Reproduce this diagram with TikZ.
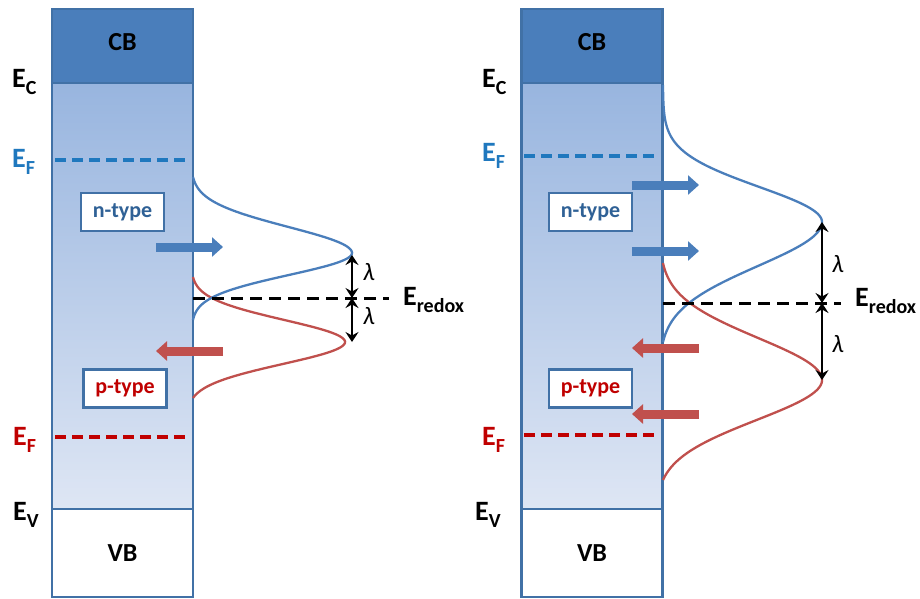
\documentclass[tikz,border=0pt]{standalone}
\usepackage{fontspec}
\setmainfont{Carlito}
\usetikzlibrary{arrows.meta, positioning, calc}
\definecolor{cbblue}{RGB}{74,126,187}
\definecolor{edgeblue}{RGB}{65,113,166}
\definecolor{gaptop}{RGB}{152,181,223}
\definecolor{gapbot}{RGB}{222,230,244}
\definecolor{ntext}{RGB}{47,97,150}
\definecolor{fblue}{RGB}{31,120,190}
\definecolor{fred}{RGB}{192,0,0}
\definecolor{dosred}{RGB}{192,80,77}
\newcommand{\lvl}[2]{#1\raisebox{-7pt}{\fontsize{20}{20}\selectfont #2}}

\begin{document}
\begin{tikzpicture}[
  x=1pt, y=-1pt,
  band/.style={draw=edgeblue, line width=2.6pt, minimum width=141pt, outer sep=0pt, inner sep=0pt,
               font=\fontsize{26}{26}\selectfont\bfseries},
  cbband/.style={band, fill=cbblue, minimum height=74pt, text depth=8pt},
  gapband/.style={band, top color=gaptop, bottom color=gapbot, minimum height=426pt},
  vbband/.style={band, fill=white, minimum height=88pt},
  typebox/.style={draw=edgeblue, line width=2.6pt, fill=white, minimum width=83pt, minimum height=38pt,
                  inner sep=0pt, font=\fontsize{22}{22}\selectfont\bfseries},
  lvllab/.style={anchor=base west, inner sep=0pt, font=\fontsize{28}{28}\selectfont\bfseries},
  fermi/.style={dash pattern=on 11pt off 6pt, line width=3.6pt},
  redoxline/.style={black, dash pattern=on 12pt off 7pt, line width=3pt},
  dos/.style={line width=2.3pt},
  lamarrow/.style={{Stealth[length=10pt,width=13pt,inset=3.5pt]}-{Stealth[length=10pt,width=13pt,inset=3.5pt]}, line width=2.8pt},
  lamlab/.style={inner sep=0pt, font=\fontsize{25}{25}\selectfont\itshape},
  flow/.style={line width=9pt, -{Triangle[length=11pt,width=19pt]}},
  node distance=0pt,
  declare function={bump(\pa,\pb,\pc,\pd)=(exp(-0.5*((\pa-\pb)/\pc)*((\pa-\pb)/\pc))-exp(-0.5*(\pd/\pc)*(\pd/\pc)))/(1-exp(-0.5*(\pd/\pc)*(\pd/\pc)));}
]
\useasboundingbox (0,0) rectangle (920,598);

% left panel
\node[cbband] (cb1) at (122.5,46) {CB};
\node[gapband, below=of cb1] (gap1) {};
\node[vbband, below=of gap1] (vb1) {VB};
\node[lvllab] (ec1) at (12,87) {\lvl{E}{C}};
\node[lvllab, text=fblue] (efn1) at (12,167) {\lvl{E}{F}};
\node[lvllab, text=fred] (efp1) at (13,445) {\lvl{E}{F}};
\node[lvllab] (ev1) at (13,520) {\lvl{E}{V}};
\draw[fermi, fblue] (55,160) -- (191,160);
\draw[fermi, fred] (55,437) -- (191,437);
\node[typebox, text=ntext] (ntype1) at (122.5,212) {n-type};
\node[typebox, text=fred] (ptype1) at (125,388.5) {p-type};

\draw[dos, dosred] plot[domain=277:342, samples=60] ({193+152*bump(\x,342,22,65)}, \x)
  -- plot[domain=342:398, samples=60] ({193+152*bump(\x,342,22,56)}, \x);
\draw[dos, cbblue] plot[domain=177:253, samples=60] ({193+159*bump(\x,253,26,76)}, \x)
  -- plot[domain=253:320, samples=60] ({193+159*bump(\x,253,22,67)}, \x);

\coordinate (rxa1) at (193,298);
\node[lvllab] (redox1) at (403,305) {\lvl{E}{redox}};
\draw[redoxline] (rxa1) -- (redox1.west |- rxa1) [shorten >=14pt];
\coordinate (pkb1) at (352,255);
\coordinate (rxm1) at (352,298);
\coordinate (pkr1) at (352,342);
\draw[lamarrow] (pkb1) -- (rxm1);
\draw[lamarrow] (rxm1) -- (pkr1);
\node[lamlab] (lamup1) at (369,272) {λ};
\node[lamlab] (lamdn1) at (369,316) {λ};

\coordinate (na1) at (156,247);
\coordinate (nb1) at (223,247);
\coordinate (pa1) at (223,351);
\coordinate (pb1) at (156,351);
\draw[flow, cbblue] (na1) -- (nb1);
\draw[flow, dosred] (pa1) -- (pb1);

% right panel
\node[cbband] (cb2) at (592,46) {CB};
\node[gapband, below=of cb2] (gap2) {};
\node[vbband, below=of gap2] (vb2) {VB};
\node[lvllab] (ec2) at (482,87) {\lvl{E}{C}};
\node[lvllab, text=fblue] (efn2) at (482,161) {\lvl{E}{F}};
\node[lvllab, text=fred] (efp2) at (482,445) {\lvl{E}{F}};
\node[lvllab] (ev2) at (475,520) {\lvl{E}{V}};
\draw[fermi, fblue] (524,156) -- (660,156);
\draw[fermi, fred] (524,435) -- (660,435);
\node[typebox, text=ntext] (ntype2) at (590.5,212) {n-type};
\node[typebox, text=fred] (ptype2) at (590.5,388.5) {p-type};

\draw[dos, dosred] plot[domain=263:380, samples=80] ({663+159*bump(\x,380,42,117)}, \x)
  -- plot[domain=380:480, samples=80] ({663+159*bump(\x,380,40,100)}, \x);
\draw[dos, cbblue] plot[domain=85:222, samples=80] ({663+159*bump(\x,222,35,137)}, \x)
  -- plot[domain=222:342, samples=80] ({663+159*bump(\x,222,44,120)}, \x);

\coordinate (rxa2) at (663,303);
\node[lvllab] (redox2) at (855,306) {\lvl{E}{redox}};
\draw[redoxline] (rxa2) -- (redox2.west |- rxa2) [shorten >=14pt];
\coordinate (pkb2) at (822,222);
\coordinate (rxm2) at (822,303);
\coordinate (pkr2) at (822,380);
\draw[lamarrow] (pkb2) -- (rxm2);
\draw[lamarrow] (rxm2) -- (pkr2);
\node[lamlab] (lamup2) at (838,264) {λ};
\node[lamlab] (lamdn2) at (838,344) {λ};

\coordinate (na2) at (632,185);
\coordinate (nb2) at (699,185);
\coordinate (nc2) at (632,251);
\coordinate (nd2) at (699,251);
\coordinate (pa2) at (699,348);
\coordinate (pb2) at (632,348);
\coordinate (pc2) at (699,414);
\coordinate (pd2) at (632,414);
\draw[flow, cbblue] (na2) -- (nb2);
\draw[flow, cbblue] (nc2) -- (nd2);
\draw[flow, dosred] (pa2) -- (pb2);
\draw[flow, dosred] (pc2) -- (pd2);
\end{tikzpicture}
\end{document}
